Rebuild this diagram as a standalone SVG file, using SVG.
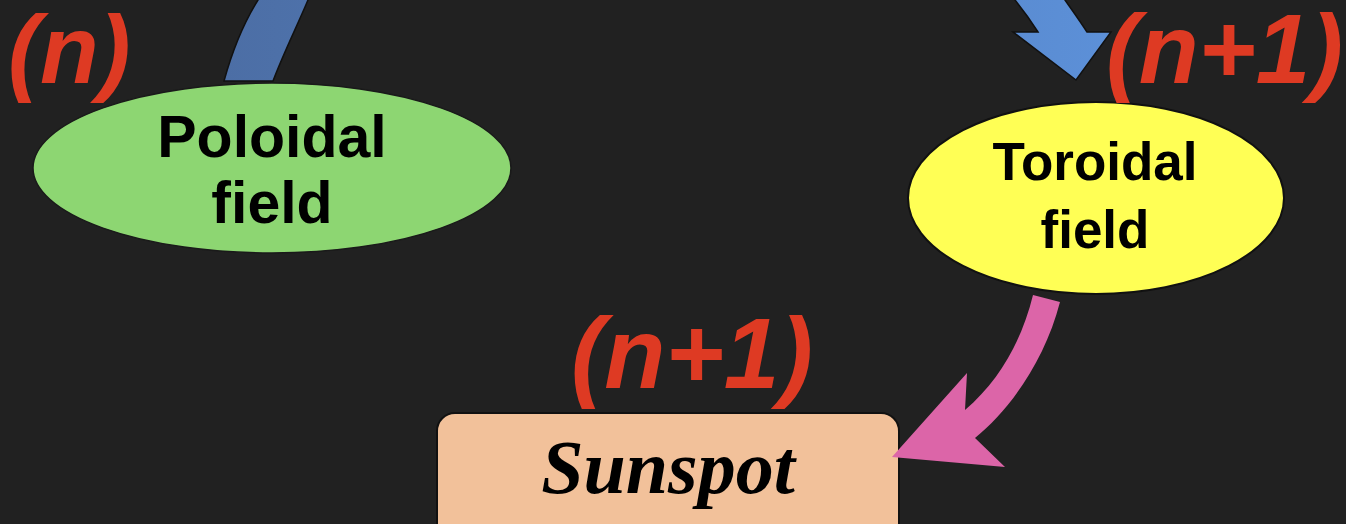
<svg xmlns="http://www.w3.org/2000/svg" width="1346" height="524" viewBox="0 0 1346 524">
  <defs>
    <linearGradient id="blueGrad" gradientUnits="userSpaceOnUse" x1="224" y1="0" x2="1111" y2="0">
      <stop offset="0" stop-color="#4c6ea5"/>
      <stop offset="1" stop-color="#5c90d8"/>
    </linearGradient>
    <style>
      .node-text { font-family: "Liberation Sans", Arial, sans-serif; font-weight: bold; fill: #000; text-anchor: middle; }
      .cycle { font-family: "Liberation Sans", Arial, sans-serif; font-weight: bold; font-style: italic; fill: #de3a23; }
      .spot { font-family: "Liberation Serif", "Times New Roman", serif; font-weight: bold; font-style: italic; fill: #000; text-anchor: middle; }
    </style>
  </defs>
  <rect x="0" y="0" width="1346" height="524" fill="#212121"/>

  <g id="poloidal">
    <ellipse cx="272" cy="168" rx="239" ry="85" fill="#8dd672" stroke="#1a1a1a" stroke-width="1.5"/>
    <text class="node-text" x="272" y="157" font-size="59">Poloidal</text>
    <text class="node-text" x="272" y="223" font-size="59">field</text>
  </g>

  <g id="toroidal">
    <ellipse cx="1096" cy="198" rx="188" ry="96" fill="#ffff55" stroke="#111" stroke-width="2"/>
    <text class="node-text" x="1095" y="180" font-size="53">Toroidal</text>
    <text class="node-text" x="1095" y="248" font-size="53">field</text>
  </g>

  <g id="sunspot">
    <rect x="437" y="413" width="462" height="140" rx="18" ry="18" fill="#f2c19a" stroke="#111" stroke-width="2"/>
    <text class="spot" x="668" y="493" font-size="76">Sunspot</text>
  </g>

  <g id="connectors">
    <path id="arc-poloidal-toroidal" fill="url(#blueGrad)" stroke="#111" stroke-width="1.5" stroke-linejoin="miter"
      d="M224,81 C232,52 243,24 258,0 C318,-96 977,-128 1065,0 C1072,10 1080,21 1087,32 L1111,32 L1076,80 L1013,32 L1038,32 C1031,21 1023,10 1015,0 C946,-96 343,-81 308,0 C298,24 284,52 273,81 Z"/>
    <path id="arc-toroidal-sunspot" fill="#dc65a8"
      d="M1033,295 L1060,302 C1045,360 1010,410 975,438 L1005,467 L892,457 L967,373 L965,410 C1000,380 1022,340 1033,295 Z"/>
  </g>

  <g id="labels">
    <text class="cycle" x="8" y="83" font-size="96">(n)</text>
    <text class="cycle" x="1106" y="83" font-size="98">(n+1)</text>
    <text class="cycle" x="571" y="388" font-size="100">(n+1)</text>
  </g>
</svg>
